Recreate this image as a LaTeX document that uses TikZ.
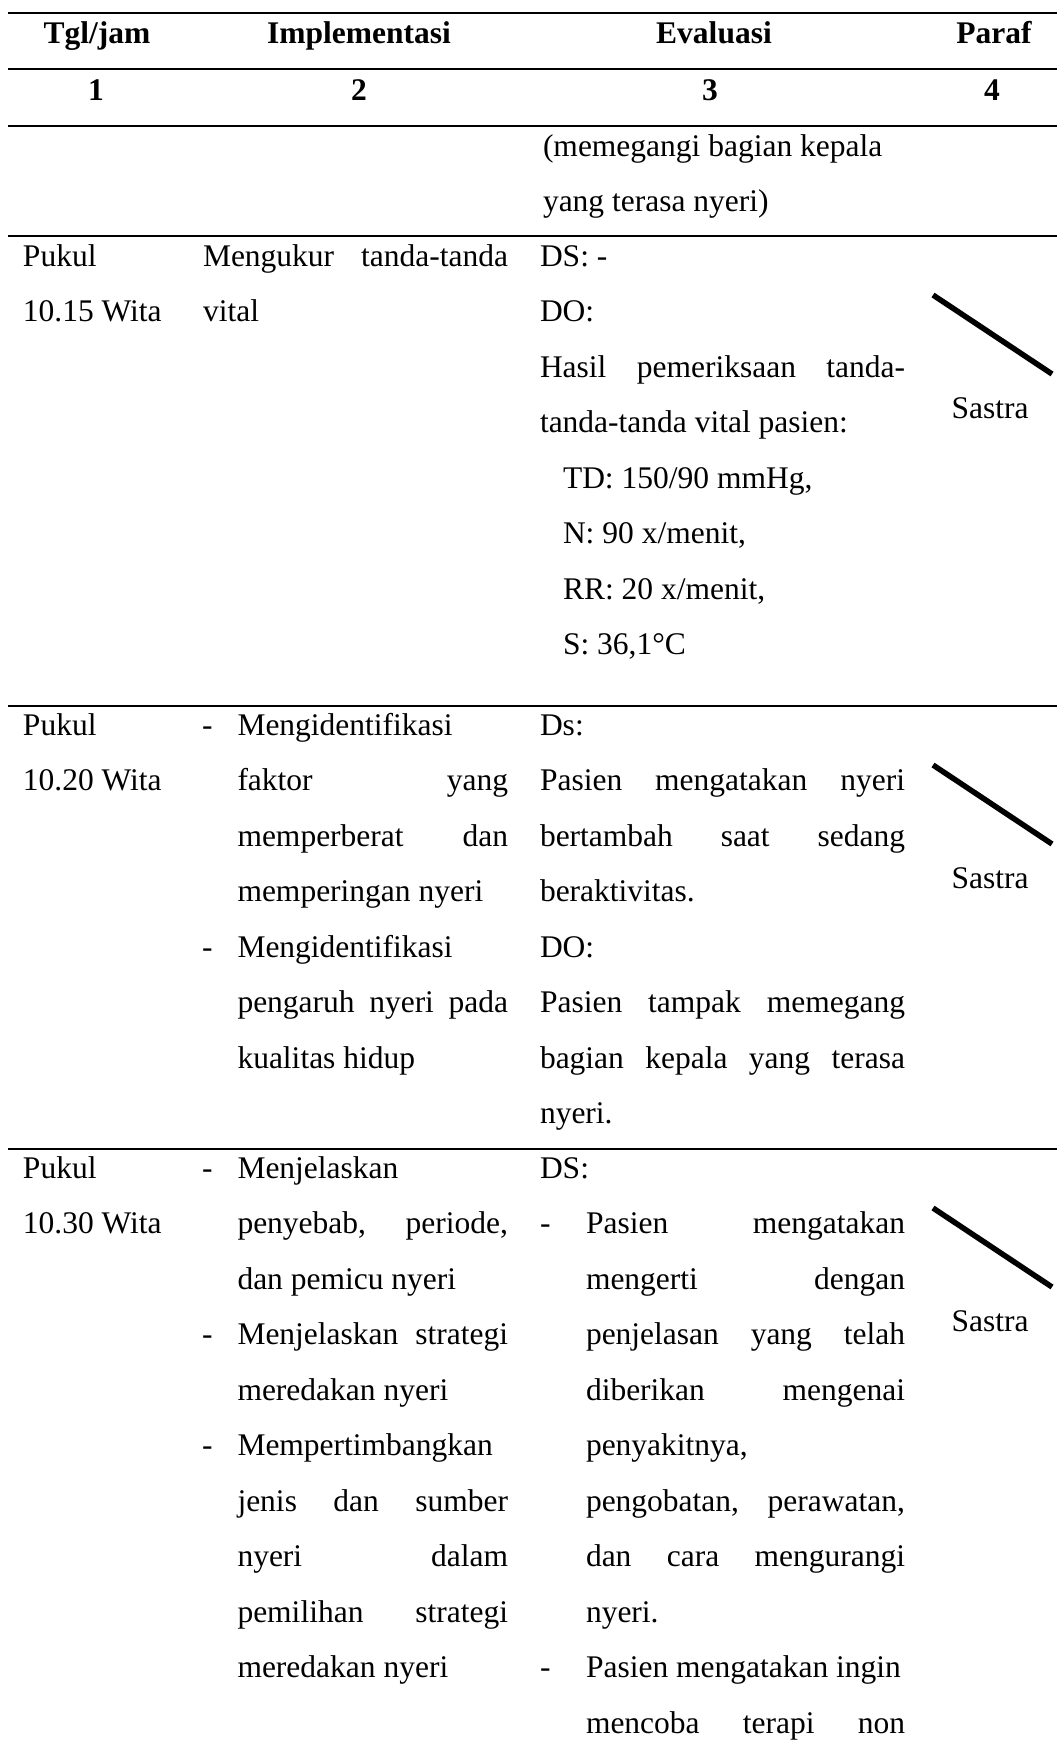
\documentclass[tikz,border=0pt]{standalone}
\usepackage{fontspec}
\setmainfont{Liberation Serif}
\newcommand\jl[1]{\makebox[\hsize][s]{\spaceskip=.25em plus 1fil\relax #1}}
\begin{document}
\begin{tikzpicture}[x=1pt,y=-1pt,
  txt/.style={anchor=base west, inner sep=0pt, outer sep=0pt, font=\fontsize{31.5}{55.5}\selectfont, align=flush left, text width=#1},
  txt/.default=330pt,
  ctr/.style={anchor=base, inner sep=0pt, outer sep=0pt, font=\fontsize{31.5}{55.5}\selectfont},
  hd/.style={ctr, font=\fontsize{31.5}{55.5}\selectfont\bfseries},
  rule/.style={line width=2.7pt},
  sig/.style={line width=5.5pt},
]
\fill[white] (0,0) rectangle (1057,1751);
\useasboundingbox (0,0) rectangle (1057,1751);

% rules
\draw[rule] (8,13) -- (1057,13);
\draw[rule] (8,69) -- (1057,69);
\draw[rule] (8,126) -- (1057,126);
\draw[rule] (8,236) -- (1057,236);
\draw[rule] (8,706) -- (1057,706);
\draw[rule] (8,1149) -- (1057,1149);

% header
\node[hd] (h1) at (97,43.5) {Tgl/jam};
\node[hd] (h2) at (359,43.5) {Implementasi};
\node[hd] (h3) at (714,43.5) {Evaluasi};
\node[hd] (h4) at (994,43.5) {Paraf};
\node[hd] (n1) at (96,100) {1};
\node[hd] (n2) at (359,100) {2};
\node[hd] (n3) at (710,100) {3};
\node[hd] (n4) at (992,100) {4};

% row 1
\node[txt=365pt] (r1c3) at (543,156) {(memegangi bagian kepala\\yang terasa nyeri)};

% row 2
\node[txt=170pt] (r2c1) at (23,266) {Pukul\\10.15 Wita};
\node[txt=305pt] (r2c2) at (203,266) {\jl{Mengukur tanda-tanda}\\vital};
\node[txt=365pt] (r2c3) at (540,266) {DS: -\\DO:\\\jl{Hasil pemeriksaan tanda-}\\tanda-tanda vital pasien:};
\node[txt=340pt] (r2c3b) at (563,488) {TD: 150/90 mmHg,\\N: 90 x/menit,\\RR: 20 x/menit,\\S: 36,1°C};
\draw[sig] (933,295) -- (1052,374);
\node[ctr] (r2c4) at (990,418) {Sastra};

% row 3
\node[txt=170pt] (r3c1) at (23,735) {Pukul\\10.20 Wita};
\node[txt=30pt] (r3d1) at (202,735) {-};
\node[txt=270.5pt] (r3c2a) at (237.5,735) {Mengidentifikasi\\\jl{faktor yang}\\\jl{memperberat dan}\\memperingan nyeri};
\node[txt=30pt] (r3d2) at (202,957) {-};
\node[txt=270.5pt] (r3c2b) at (237.5,957) {Mengidentifikasi\\\jl{pengaruh nyeri pada}\\kualitas hidup};
\node[txt=365pt] (r3c3) at (540,735) {Ds:\\\jl{Pasien mengatakan nyeri}\\\jl{bertambah saat sedang}\\beraktivitas.\\DO:\\\jl{Pasien tampak memegang}\\\jl{bagian kepala yang terasa}\\nyeri.};
\draw[sig] (933,765) -- (1052,844);
\node[ctr] (r3c4) at (990,888) {Sastra};

% row 4
\node[txt=170pt] (r4c1) at (23,1178) {Pukul\\10.30 Wita};
\node[txt=30pt] (r4d1) at (202,1178) {-};
\node[txt=270.5pt] (r4c2a) at (237.5,1178) {Menjelaskan\\\jl{penyebab, periode,}\\dan pemicu nyeri};
\node[txt=30pt] (r4d2) at (202,1344.5) {-};
\node[txt=270.5pt] (r4c2b) at (237.5,1344.5) {\jl{Menjelaskan strategi}\\meredakan nyeri};
\node[txt=30pt] (r4d3) at (202,1455.5) {-};
\node[txt=270.5pt] (r4c2c) at (237.5,1455.5) {Mempertimbangkan\\\jl{jenis dan sumber}\\\jl{nyeri dalam}\\\jl{pemilihan strategi}\\meredakan nyeri};
\node[txt=100pt] (r4c3) at (540,1178) {DS:};
\node[txt=30pt] (r4e1) at (540,1233.5) {-};
\node[txt=319pt] (r4c3a) at (586,1233.5) {\jl{Pasien mengatakan}\\\jl{mengerti dengan}\\\jl{penjelasan yang telah}\\\jl{diberikan mengenai}\\penyakitnya,\\\jl{pengobatan, perawatan,}\\\jl{dan cara mengurangi}\\nyeri.};
\node[txt=30pt] (r4e2) at (540,1677.5) {-};
\node[txt=319pt] (r4c3b) at (586,1677.5) {\mbox{Pasien mengatakan ingin}\\\jl{mencoba terapi non}};
\draw[sig] (933,1208) -- (1052,1287);
\node[ctr] (r4c4) at (990,1331) {Sastra};
\end{tikzpicture}
\end{document}
